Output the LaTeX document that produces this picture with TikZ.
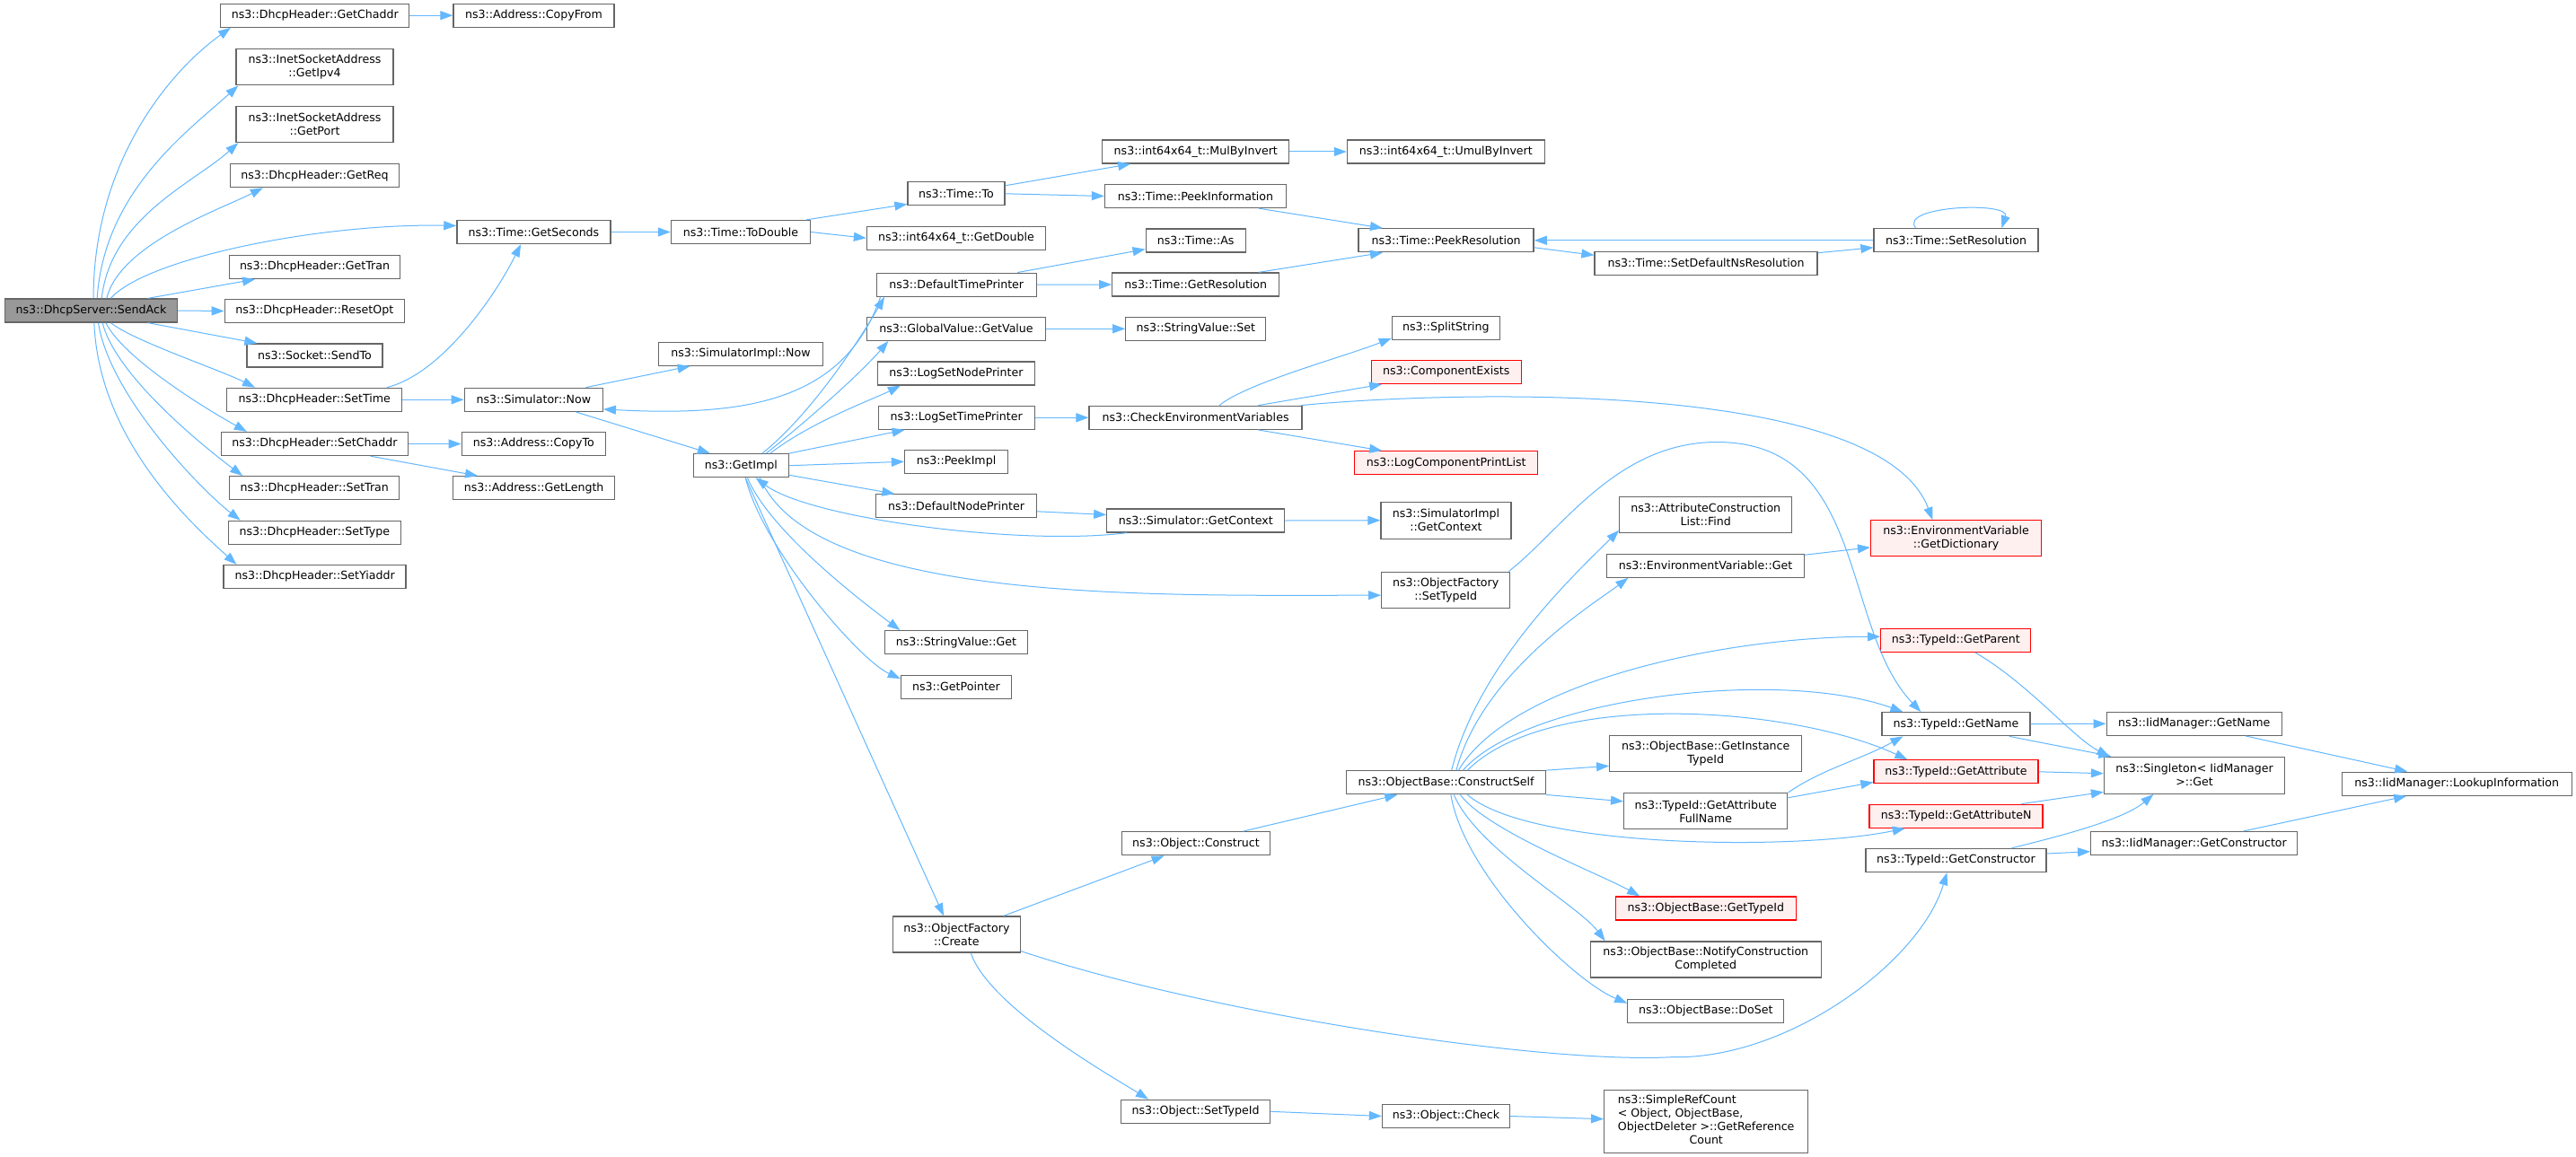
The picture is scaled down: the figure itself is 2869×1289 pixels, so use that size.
\documentclass[tikz,border=0pt]{standalone}
\usepackage{fontspec}
\setmainfont{DejaVu Sans}
\usetikzlibrary{arrows.meta}
\definecolor{edgeblue}{HTML}{63B8FF}
\definecolor{nodeborder}{HTML}{666666}
\definecolor{redfill}{HTML}{FFF0F0}
\definecolor{redborder}{HTML}{FF0000}
\definecolor{rootfill}{HTML}{999999}
\newcommand{\nfont}{\fontsize{12.6}{15}\selectfont}
\tikzset{
  fnode/.style={draw=nodeborder, fill=white, line width=1.3pt, inner sep=0pt, align=center, font=\nfont, minimum height=26pt},
  rednode/.style={fnode, draw=redborder, fill=redfill},
  rootnode/.style={fnode, fill=rootfill},
  cn/.style={draw=edgeblue, line width=1pt, -{Triangle[length=14pt,width=10pt]}},
}
\begin{document}
\begin{tikzpicture}[x=1pt,y=-1pt]
\fill[white] (0,0) rectangle (2869,1289);
\useasboundingbox (0,0) rectangle (2869,1289);

% column 1
\node[rootnode,minimum width=192pt] (S) at (101.5,346) {ns3::DhcpServer::SendAck};
% column 2
\node[fnode,minimum width=210pt] (gch) at (350.8,17.2) {ns3::DhcpHeader::GetChaddr};
\node[fnode,minimum width=175pt,minimum height=40pt] (ip4) at (350.5,74.7) {ns3::InetSocketAddress\\::GetIpv4};
\node[fnode,minimum width=175pt,minimum height=40pt] (prt) at (350.5,138.5) {ns3::InetSocketAddress\\::GetPort};
\node[fnode,minimum width=188pt] (req) at (350.5,195.7) {ns3::DhcpHeader::GetReq};
\node[fnode,minimum width=190pt] (tran) at (350.5,297.5) {ns3::DhcpHeader::GetTran};
\node[fnode,minimum width=200pt] (ropt) at (350.3,346.5) {ns3::DhcpHeader::ResetOpt};
\node[fnode,minimum width=151pt] (sto) at (350.5,396) {ns3::Socket::SendTo};
\node[fnode,minimum width=195pt] (stime) at (350.3,445.3) {ns3::DhcpHeader::SetTime};
\node[fnode,minimum width=208pt] (schaddr) at (350.5,494.5) {ns3::DhcpHeader::SetChaddr};
\node[fnode,minimum width=189pt] (stran) at (350.3,543.7) {ns3::DhcpHeader::SetTran};
\node[fnode,minimum width=192pt] (stype) at (350.3,593.3) {ns3::DhcpHeader::SetType};
\node[fnode,minimum width=203pt] (syi) at (350.6,642.5) {ns3::DhcpHeader::SetYiaddr};
% column 3
\node[fnode,minimum width=179pt] (cpf) at (594.5,17.2) {ns3::Address::CopyFrom};
\node[fnode,minimum width=171pt] (gsec) at (594.4,258.5) {ns3::Time::GetSeconds};
\node[fnode,minimum width=154pt] (snow) at (594.3,445.3) {ns3::Simulator::Now};
\node[fnode,minimum width=160pt] (cpto) at (594.3,494.5) {ns3::Address::CopyTo};
\node[fnode,minimum width=180pt] (glen) at (594.6,543.7) {ns3::Address::GetLength};
% column 4
\node[fnode,minimum width=155pt] (tod) at (824.9,258.5) {ns3::Time::ToDouble};
\node[fnode,minimum width=183pt] (simnow) at (824.9,394.3) {ns3::SimulatorImpl::Now};
\node[fnode,minimum width=106pt] (gimpl) at (825.3,518.7) {ns3::GetImpl};
% column 5
\node[fnode,minimum width=108pt] (to) at (1065,215.8) {ns3::Time::To};
\node[fnode,minimum width=199pt] (gdbl) at (1065,265.3) {ns3::int64x64\_t::GetDouble};
\node[fnode,minimum width=178pt] (dtp) at (1065.2,317.2) {ns3::DefaultTimePrinter};
\node[fnode,minimum width=199pt] (gvgv) at (1065,366.3) {ns3::GlobalValue::GetValue};
\node[fnode,minimum width=175pt] (lsnp) at (1065,416) {ns3::LogSetNodePrinter};
\node[fnode,minimum width=174pt] (lstp) at (1065.2,465.3) {ns3::LogSetTimePrinter};
\node[fnode,minimum width=115pt] (pimpl) at (1065,514.3) {ns3::PeekImpl};
\node[fnode,minimum width=179pt] (dnp) at (1065,563.8) {ns3::DefaultNodePrinter};
\node[fnode,minimum width=159pt] (svget) at (1065,715.7) {ns3::StringValue::Get};
\node[fnode,minimum width=123pt] (gptr) at (1065,765.2) {ns3::GetPointer};
\node[fnode,minimum width=142pt,minimum height=40pt] (ofc) at (1065.4,1041) {ns3::ObjectFactory\\::Create};
% column 6
\node[fnode,minimum width=208pt] (mbi) at (1331.8,169) {ns3::int64x64\_t::MulByInvert};
\node[fnode,minimum width=202pt] (pinf) at (1331.5,218.5) {ns3::Time::PeekInformation};
\node[fnode,minimum width=111pt] (tas) at (1331.7,268) {ns3::Time::As};
\node[fnode,minimum width=186pt] (gres) at (1331.8,317) {ns3::Time::GetResolution};
\node[fnode,minimum width=156pt] (svset) at (1331.8,366.3) {ns3::StringValue::Set};
\node[fnode,minimum width=237pt] (cev) at (1331.6,465.3) {ns3::CheckEnvironmentVariables};
\node[fnode,minimum width=198pt] (sgc) at (1331.8,580) {ns3::Simulator::GetContext};
\node[fnode,minimum width=165pt] (ocon) at (1332,939.8) {ns3::Object::Construct};
\node[fnode,minimum width=166pt] (ostid) at (1331.6,1238.3) {ns3::Object::SetTypeId};
% column 7
\node[fnode,minimum width=220pt] (umbi) at (1610.4,169) {ns3::int64x64\_t::UmulByInvert};
\node[fnode,minimum width=195pt] (pres) at (1610.6,267.8) {ns3::Time::PeekResolution};
\node[fnode,minimum width=120pt] (split) at (1610.4,365.2) {ns3::SplitString};
\node[rednode,minimum width=167pt] (cexist) at (1610.7,414.5) {ns3::ComponentExists};
\node[rednode,minimum width=204pt] (lcpl) at (1610.7,515.7) {ns3::LogComponentPrintList};
\node[fnode,minimum width=145pt,minimum height=41pt] (sigc) at (1610.5,579.7) {ns3::SimulatorImpl\\::GetContext};
\node[fnode,minimum width=143pt,minimum height=40pt] (ofst) at (1610.2,657.2) {ns3::ObjectFactory\\::SetTypeId};
\node[fnode,minimum width=222pt] (cself) at (1610.5,871.8) {ns3::ObjectBase::ConstructSelf};
\node[fnode,minimum width=142pt] (ochk) at (1610.5,1243.5) {ns3::Object::Check};
% column 8
\node[fnode,minimum width=248pt] (sdns) at (1900,293.3) {ns3::Time::SetDefaultNsResolution};
\node[fnode,minimum width=192pt,minimum height=40pt] (acl) at (1899.7,573.2) {ns3::AttributeConstruction\\List::Find};
\node[fnode,minimum width=220pt] (evget) at (1899.5,630.2) {ns3::EnvironmentVariable::Get};
\node[fnode,minimum width=214pt,minimum height=40pt] (gitid) at (1899.7,839.8) {ns3::ObjectBase::GetInstance\\TypeId};
\node[fnode,minimum width=182pt,minimum height=40pt] (gafn) at (1899.7,903.8) {ns3::TypeId::GetAttribute\\FullName};
\node[rednode,minimum width=201pt] (obgt) at (1899.8,1012) {ns3::ObjectBase::GetTypeId};
\node[fnode,minimum width=257pt,minimum height=40pt] (ncc) at (1899.8,1069) {ns3::ObjectBase::NotifyConstruction\\Completed};
\node[fnode,minimum width=174pt] (doset) at (1899.8,1126.5) {ns3::ObjectBase::DoSet};
\node[fnode,minimum width=227pt,minimum height=70pt] (src) at (1900.2,1249.2) {\begin{tabular}{@{}l@{}}ns3::SimpleRefCount\\< Object, ObjectBase,\\\multicolumn{1}{@{}c@{}}{ObjectDeleter >::GetReference}\\\multicolumn{1}{@{}c@{}}{Count}\end{tabular}};
% column 9
\node[fnode,minimum width=183pt] (sres) at (2178.5,267.8) {ns3::Time::SetResolution};
\node[rednode,minimum width=190pt,minimum height=40pt] (gdict) at (2178.6,599.8) {ns3::EnvironmentVariable\\::GetDictionary};
\node[rednode,minimum width=167pt] (gpar) at (2178.3,713.3) {ns3::TypeId::GetParent};
\node[fnode,minimum width=165pt] (tgn) at (2178.5,806.7) {ns3::TypeId::GetName};
\node[rednode,minimum width=183pt] (tga) at (2178.5,859.8) {ns3::TypeId::GetAttribute};
\node[rednode,minimum width=193pt] (tgan) at (2178.6,909.2) {ns3::TypeId::GetAttributeN};
\node[fnode,minimum width=201pt] (tgc) at (2178.5,958.5) {ns3::TypeId::GetConstructor};
% column 10
\node[fnode,minimum width=195pt] (iign) at (2443.7,806.3) {ns3::IidManager::GetName};
\node[fnode,minimum width=201pt,minimum height=41pt] (sing) at (2444,863.7) {ns3::Singleton< IidManager\\>::Get};
\node[fnode,minimum width=230pt] (iigc) at (2443.7,939.7) {ns3::IidManager::GetConstructor};
% column 11
\node[fnode,minimum width=256pt] (lookup) at (2736.2,873.2) {ns3::IidManager::LookupInformation};

% ---- edges from SendAck
\draw[cn] ([xshift=99.2pt]S.north west) .. controls +(0,-150) and +(-70,50) .. ([xshift=11.8pt]gch.south west);
\draw[cn] ([xshift=103.3pt]S.north west) .. controls +(8,-120) and +(-55,50) .. ([xshift=3pt]ip4.south west);
\draw[cn] ([xshift=108.4pt]S.north west) .. controls +(10,-90) and +(-50,45) .. ([xshift=3pt]prt.south west);
\draw[cn] ([xshift=113.9pt]S.north west) .. controls +(15,-60) and +(-50,25) .. ([xshift=37pt]req.south west);
\draw[cn] ([xshift=118.5pt]S.north west) .. controls +(40,-45) and +(-150,-3) .. ([yshift=7pt]gsec.west);
\draw[cn] ([xshift=159.8pt]S.north west) -- ([xshift=29.2pt]tran.south west);
\draw[cn] (S.east) -- (ropt.west);
\draw[cn] ([xshift=159.8pt]S.south west) -- ([xshift=12pt]sto.north west);
\draw[cn] ([xshift=118.5pt]S.south west) .. controls +(25,20) and +(-40,-20) .. ([xshift=31.9pt]stime.north west);
\draw[cn] ([xshift=113pt]S.south west) .. controls +(20,40) and +(-45,-25) .. ([xshift=29pt]schaddr.north west);
\draw[cn] ([xshift=109.3pt]S.south west) .. controls +(15,60) and +(-40,-30) .. ([xshift=15pt]stran.north west);
\draw[cn] ([xshift=104.7pt]S.south west) .. controls +(12,80) and +(-45,-35) .. ([xshift=14pt]stype.north west);
\draw[cn] ([xshift=100pt]S.south west) .. controls +(5,130) and +(-50,-45) .. ([xshift=15pt]syi.north west);

% ---- second level
\draw[cn] (gch.east) -- (cpf.west);
\draw[cn] (gsec.east) -- (tod.west);
\draw[cn] ([xshift=178.8pt]stime.north west) .. controls +(60,-15) and +(-30,60) .. ([xshift=71.9pt]gsec.south west);
\draw[cn] (stime.east) -- (snow.west);
\draw[cn] (schaddr.east) -- (cpto.west);
\draw[cn] ([xshift=166.7pt]schaddr.south west) -- ([xshift=28pt]glen.north west);
\draw[cn] ([xshift=135.7pt]snow.north west) -- ([xshift=35.8pt]simnow.south west);
\draw[cn] ([xshift=124.7pt]snow.south west) -- ([xshift=19.2pt]gimpl.north west);
\draw[cn] ([xshift=5pt]dtp.south west) .. controls +(-41,120) and +(150.7,7.7) .. ([yshift=3pt]snow.south east);

% ---- time
\draw[cn] ([xshift=-5pt]tod.north east) -- ([yshift=2pt]to.south west);
\draw[cn] (tod.east) -- (gdbl.west);
\draw[cn] ([yshift=9pt]to.east) -- ([xshift=32pt]mbi.south west);
\draw[cn] (to.east) -- (pinf.west);
\draw[cn] (mbi.east) -- (umbi.west);
\draw[cn] ([xshift=172pt]pinf.south west) -- ([xshift=27.5pt]pres.north west);
\draw[cn] ([xshift=163.7pt]gres.north west) -- ([xshift=27.5pt]pres.south west);
\draw[cn] ([xshift=157.7pt]dtp.north west) -- ([yshift=4pt]tas.south west);
\draw[cn] (dtp.east) -- (gres.west);
\draw[cn] ([yshift=-8pt]pres.east) -- ([yshift=9pt]sdns.west);
\draw[cn] ([yshift=11.6pt]sdns.east) -- ([yshift=-8pt]sres.west);
\draw[cn] (sres.west) -- (pres.east);
\draw[cn] ([xshift=47.3pt]sres.north west) .. controls +(-20,-25) and +(10,-30) .. ([xshift=143pt]sres.north west);
\draw[cn] (gvgv.east) -- (svset.west);

% ---- GetImpl
\draw[cn] ([xshift=77.3pt]gimpl.north west) .. controls +(50,-40) and +(-35,60) .. ([xshift=9.5pt]dtp.south west);
\draw[cn] ([xshift=81.8pt]gimpl.north west) .. controls +(50,-40) and +(-30,35) .. ([xshift=24.5pt]gvgv.south west);
\draw[cn] ([xshift=86.3pt]gimpl.north west) .. controls +(45,-35) and +(-30,15) .. ([xshift=26pt]lsnp.south west);
\draw[cn] (gimpl.north east) -- ([xshift=30pt]lstp.south west);
\draw[cn] (gimpl.east) -- (pimpl.west);
\draw[cn] ([yshift=-10.6pt]gimpl.east) -- ([xshift=21.5pt]dnp.north west);
\draw[cn] ([xshift=22.8pt]sgc.south west) .. controls +(-120,15) and +(60,45) .. ([xshift=70pt]gimpl.south west);
\draw[cn] ([xshift=74.7pt]gimpl.south west) .. controls +(60,140) and +(-250,0) .. ([yshift=-6pt]ofst.west);
\draw[cn] ([xshift=60.8pt]gimpl.south west) .. controls +(25,60) and +(-40,-30) .. ([xshift=17.5pt]svget.north west);
\draw[cn] ([xshift=58.6pt]gimpl.south west) .. controls +(20,80) and +(-45,-20) .. ([yshift=-4.5pt]gptr.north west);
\draw[cn] ([xshift=58.6pt]gimpl.south west) -- ([xshift=57.3pt]ofc.north west);

% ---- logging
\draw[cn] (lstp.east) -- (cev.west);
\draw[cn] ([xshift=145.6pt]cev.north west) .. controls +(30,-25) and +(-50,20) .. ([yshift=-11.5pt]split.west);
\draw[cn] ([xshift=188.9pt]cev.north west) -- ([xshift=12.6pt]cexist.south west);
\draw[cn] ([xshift=188.9pt]cev.south west) -- ([xshift=31.1pt]lcpl.north west);
\draw[cn] ([xshift=-2pt]cev.north east) .. controls +(150,-15) and +(-60,-160) .. ([xshift=69.4pt]gdict.north west);
\draw[cn] ([yshift=-6pt]dnp.east) -- ([yshift=6.5pt]sgc.west);
\draw[cn] (sgc.east) -- (sigc.west);

% ---- object factory
\draw[cn] ([xshift=-2pt]ofst.north east) .. controls +(60,-47) and +(-112,0) .. ++(232,-144) .. controls +(168,0) and +(-90,-94) .. ([xshift=44pt]tgn.north west);
\draw[cn] ([xshift=124pt]ofc.north west) -- ([xshift=47.7pt]ocon.south west);
\draw[cn] ([xshift=87.5pt]ofc.south west) .. controls +(20,60) and +(-40,-25) .. ([xshift=31pt]ostid.north west);
\draw[cn] ([yshift=2pt]ofc.south east) .. controls +(213.6,71) and +(-142,8) .. ++(725.6,118) .. controls +(128,3) and +(-30,100) .. ([xshift=91pt]tgc.south west);
\draw[cn] ([xshift=135.5pt]ocon.north west) -- ([xshift=57.5pt]cself.south west);
\draw[cn] (ostid.east) -- (ochk.west);
\draw[cn] (ochk.east) -- ([yshift=2.5pt]src.west);

% ---- ConstructSelf
\draw[cn] (cself.north east) -- ([yshift=-13.5pt]gitid.west);
\draw[cn] (cself.south east) -- ([yshift=11pt]gafn.west);
\draw[cn] ([xshift=117.8pt]cself.north west) .. controls +(30,-120) and +(-45,45) .. ([yshift=3pt]acl.south west);
\draw[cn] ([xshift=123pt]cself.north west) .. controls +(30,-110) and +(-40,30) .. ([xshift=24.5pt]evget.south west);
\draw[cn] ([xshift=125.5pt]cself.north west) .. controls +(60,-100) and +(-170,0) .. ([yshift=4pt]gpar.west);
\draw[cn] ([xshift=130.5pt]cself.north west) .. controls +(70,-80) and +(-140,-50) .. ([xshift=24pt]tgn.north west);
\draw[cn] ([xshift=135.5pt]cself.north west) .. controls +(90,-90) and +(-130,-60) .. ([xshift=38pt]tga.north west);
\draw[cn] ([xshift=135.5pt]cself.south west) .. controls +(70,60) and +(-120,25) .. ([xshift=40.3pt]tgan.south west);
\draw[cn] ([xshift=127.5pt]cself.south west) .. controls +(30,40) and +(-45,-25) .. ([xshift=27.5pt]obgt.north west);
\draw[cn] ([xshift=120.5pt]cself.south west) .. controls +(25,60) and +(-30,-40) .. ([xshift=17pt]ncc.north west);
\draw[cn] ([xshift=117pt]cself.south west) .. controls +(15,90) and +(-60,-25) .. ([yshift=-4.8pt]doset.north west);

% ---- type id
\draw[cn] ([yshift=12pt]evget.east) -- ([yshift=-10pt]gdict.west);
\draw[cn] (gafn.north east) .. controls +(35,-25) and +(-45,25) .. ([xshift=24pt]tgn.south west);
\draw[cn] ([yshift=15pt]gafn.east) -- ([yshift=2pt]tga.south west);
\draw[cn] ([xshift=105.7pt]gpar.south west) .. controls +(60,35) and +(-40,-20) .. ([xshift=6.6pt]sing.north west);
\draw[cn] (tgn.east) -- (iign.west);
\draw[cn] ([xshift=142.4pt]tgn.south west) -- ([xshift=8.5pt]sing.north west);
\draw[cn] (tga.east) -- ([yshift=2pt]sing.west);
\draw[cn] ([xshift=170pt]tgan.north west) -- ([yshift=2.5pt]sing.south west);
\draw[cn] ([xshift=163pt]tgc.north west) .. controls +(40,-10) and +(-35,30) .. ([xshift=55.5pt]sing.south west);
\draw[cn] ([yshift=7.5pt]tgc.east) -- ([yshift=-9pt]iigc.west);
\draw[cn] ([xshift=155.5pt]iign.south west) -- ([xshift=73.6pt]lookup.north west);
\draw[cn] ([xshift=170.2pt]iigc.north west) -- ([xshift=72.5pt]lookup.south west);
\end{tikzpicture}
\end{document}
